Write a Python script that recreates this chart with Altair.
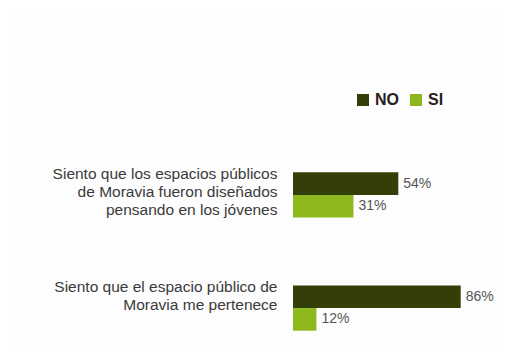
import altair as alt
import pandas as pd

questions = [
    "Siento que los espacios públicos|de Moravia fueron diseñados|pensando en los jóvenes",
    "Siento que el espacio público de|Moravia me pertenece",
]
series = ["NO", "SI"]
no_values = [54, 86]
si_values = [31, 12]
colors = ["#333f07", "#8db81e"]

rows = []
for q, n, s in zip(questions, no_values, si_values):
    rows.append({"question": q, "serie": "NO", "value": n, "label": f"{n}%"})
    rows.append({"question": q, "serie": "SI", "value": s, "label": f"{s}%"})
df = pd.DataFrame(rows)

y_enc = alt.Y(
    "question:N",
    sort=questions,
    scale=alt.Scale(paddingInner=0.6, paddingOuter=0.1),
    axis=alt.Axis(
        title=None, domain=False, ticks=False, grid=False,
        labelExpr="split(datum.label, '|')",
        labelAlign="right", labelBaseline="top", labelOffset=-28,
        labelPadding=16, labelFontSize=15.5, labelLineHeight=18,
        labelColor="#3a3a3a", labelFont="Liberation Sans", labelLimit=400,
    ),
)
yoff = alt.YOffset("serie:N", sort=series, scale=alt.Scale(paddingInner=0, paddingOuter=0))
x_enc = alt.X("value:Q", scale=alt.Scale(domain=[0, 100]), axis=None)

bars = alt.Chart(df).mark_bar().encode(
    x=x_enc,
    y=y_enc,
    yOffset=yoff,
    color=alt.Color(
        "serie:N",
        sort=series,
        scale=alt.Scale(domain=series, range=colors),
        legend=alt.Legend(
            title=None, orient="none", direction="horizontal",
            legendX=62, legendY=-69, symbolType="square", symbolSize=144,
            symbolStrokeWidth=0, labelFontSize=16, labelFontWeight="bold",
            labelColor="#222222", labelFont="Liberation Sans",
            columnPadding=9, labelOffset=4,
        ),
    ),
)

texts = alt.Chart(df).mark_text(
    align="left", baseline="middle", dx=5, fontSize=14,
    color="#555555", font="Liberation Sans",
).encode(
    x=x_enc,
    y=alt.Y("question:N", sort=questions),
    yOffset=alt.YOffset("serie:N", sort=series),
    text="label:N",
)

chart = (
    alt.layer(bars, texts)
    .properties(
        width=195, height=181,
        autosize=alt.AutoSizeParams(type="none"),
        padding={"left": 285, "top": 153, "right": 10, "bottom": 10},
        background="#fdfdfd",
    )
    .configure_view(stroke=None)
)

chart.save("out.html", embed_options={"renderer": "svg", "actions": False})
